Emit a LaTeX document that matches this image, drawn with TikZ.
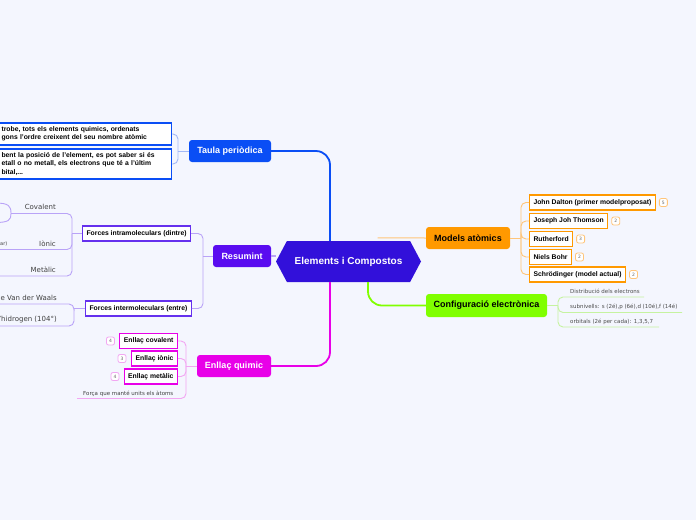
\documentclass[tikz,border=0pt]{standalone}
\usepackage{fontspec}
\setmainfont{Liberation Sans}
\newfontfamily\dv{DejaVu Sans}
\usetikzlibrary{shapes.symbols}
\definecolor{bg}{HTML}{F4F6FE}
\definecolor{cen}{HTML}{3210DA}
\definecolor{blu}{HTML}{0A4EF5}
\definecolor{bluc}{HTML}{A3B8F6}
\definecolor{vio}{HTML}{5A0CF0}
\definecolor{vioc}{HTML}{B9A3F7}
\definecolor{viob}{HTML}{6530EE}
\definecolor{mag}{HTML}{E800E8}
\definecolor{magc}{HTML}{F2A6F2}
\definecolor{ora}{HTML}{FF9900}
\definecolor{orac}{HTML}{FFC57A}
\definecolor{lim}{HTML}{80FF00}
\definecolor{limc}{HTML}{C6F3A0}
\tikzset{
  mainbox/.style={rounded corners=3pt, minimum height=22pt, inner xsep=0pt, inner ysep=0pt, text=white, font=\bfseries\fontsize{9}{10}\selectfont},
  cbox/.style={draw, line width=1.1pt, fill=white, font=\bfseries\fontsize{6.8}{8}\selectfont, minimum height=15pt, inner xsep=4pt, inner ysep=0pt},
  tbox/.style={draw=blu, line width=1.1pt, fill=white, anchor=west, text width=165pt, align=left, inner xsep=5pt, inner ysep=2pt, font=\bfseries\fontsize{6.8}{8.5}\selectfont},
  badge/.style={draw, rounded corners=2pt, fill=white, line width=0.8pt, minimum width=8pt, minimum height=8pt, inner sep=0pt, font=\dv\fontsize{4.5}{5}\selectfont, text=black!60},
  leaf/.style={font=\dv\fontsize{7}{8}\selectfont, text=black!75, inner sep=0pt, anchor=base east},
  small/.style={font=\dv\fontsize{5.5}{6}\selectfont, text=black!70, inner sep=0pt, anchor=base west},
  conn/.style={line width=0.9pt, rounded corners=5pt},
  thick conn/.style={line width=1.8pt, rounded corners=14pt},
}
\begin{document}
\begin{tikzpicture}[x=1pt,y=-1pt]
\useasboundingbox (0,0) rectangle (696,520);
\fill[bg] (0,0) rectangle (696,520);

% central
\node[signal, signal to=west and east, signal pointer angle=124, fill=cen, minimum width=145pt, minimum height=41pt, inner sep=0pt, text=white, font=\bfseries\fontsize{10}{12}\selectfont] (c) at (348.5,261.5) {Elements i Compostos};

% main topics
\node[mainbox, fill=blu, minimum width=82pt] (taula) at (230,151) {Taula periòdica};
\node[mainbox, fill=vio, minimum width=58pt] (res) at (242,256) {Resumint};
\node[mainbox, fill=mag, minimum width=74pt] (enl) at (234,366) {Enllaç quimic};
\node[mainbox, fill=ora, minimum width=84pt, text=black] (mod) at (468,238) {Models atòmics};
\node[mainbox, fill=lim, minimum width=121pt, minimum height=23pt, text=black] (conf) at (486.5,305.5) {Configuració electrònica};

% central connectors
\draw[thick conn, blu] ([xshift=-18.5pt]c.north) |- (taula.east);
\draw[thick conn, mag] ([xshift=-18.5pt]c.south) |- (enl.east);
\draw[thick conn, lim] ([xshift=19.5pt]c.south) |- (conf.west);
\draw[line width=1pt, orac] ([xshift=29pt,yshift=3pt]c.north) -- (mod.west);
\draw[line width=1.5pt, vioc] (res.east) -- (res.east -| c.west);

% Taula children
\node[tbox, minimum height=22pt] (t1) at (-4,134) {trobe, tots els elements quimics, ordenats\\gons l'ordre creixent del seu nombre atòmic};
\node[tbox, minimum height=30pt] (t2) at (-4,164) {bent la posició de l'element, es pot saber si és\\etall o no metall, els electrons que té a l'últim\\bital,...};
\coordinate (tb) at (178,151);
\draw[conn, bluc] (taula.west) -- (tb);
\draw[conn, bluc] (t1.east) -| (tb);
\draw[conn, bluc] (t2.east) -| (tb);

% Resumint children
\node[cbox, draw=viob, anchor=west] (intra) at (82,233.5) {Forces intramoleculars (dintre)};
\node[cbox, draw=viob, anchor=west] (inter) at (85,308.5) {Forces intermoleculars (entre)};
\coordinate (rb) at (203,256);
\draw[conn, vioc] (res.west) -- (rb);
\draw[conn, vioc] (intra.east) -| (rb);
\draw[conn, vioc] (inter.east) -| (rb);

% intra leaves
\coordinate (ib) at (72,233.5);
\draw[conn, vioc] (intra.west) -- (ib);
\node[leaf] (cov) at (56,209.5) {Covalent};
\node[leaf] (ion) at (56,246) {Iònic};
\node[leaf] (met) at (56,272.5) {Metàlic};
\node[font=\dv\fontsize{5}{6}\selectfont, text=black!75, inner sep=0pt, anchor=base west] (ar) at (0,245) {ar)};
\coordinate (covu) at (11,213.5);
\coordinate (ionu) at (-5,249.5);
\coordinate (metu) at (-5,276);
\draw[conn, vioc] (covu) -| (ib);
\draw[conn, vioc] (ionu) -| (ib);
\draw[conn, vioc] (metu) -| (ib);
\draw[line width=0.9pt, vioc] (-5,203) .. controls (9,203) and (11,206) .. (covu) .. controls (11,220) and (9,222.5) .. (-5,222.5);

% inter leaves
\coordinate (ib2) at (74,308.5);
\draw[conn, vioc] (inter.west) -- (ib2);
\node[leaf] (vdw) at (57,300.5) {le Van der Waals};
\node[leaf] (hid) at (57,321) {’hidrogen (104°)};
\coordinate (vdwu) at (-5,304);
\coordinate (hidu) at (-5,326);
\draw[conn, vioc] (vdwu) -| (ib2);
\draw[conn, vioc] (hidu) -| (ib2);

% Enllac children
\node[cbox, draw=mag, anchor=east] (ecov) at (178,341) {Enllaç covalent};
\node[cbox, draw=mag, anchor=east] (eion) at (178,358.5) {Enllaç iònic};
\node[cbox, draw=mag, anchor=east] (emet) at (178,376.5) {Enllaç metàlic};
\node[badge, draw=magc] (b1) at (110.5,341) {4};
\node[badge, draw=magc] (b2) at (122,358.5) {3};
\node[badge, draw=magc] (b3) at (115,376.5) {4};
\node[font=\dv\fontsize{5.5}{6}\selectfont, text=black!75, inner sep=0pt, anchor=base west] (forca) at (83,395) {Força que manté units els àtoms};
\coordinate (eb) at (186,366);
\coordinate (fu) at (77,398.5);
\draw[conn, magc] (enl.west) -- (eb);
\draw[conn, magc] (ecov.east) -| (eb);
\draw[conn, magc] (eion.east) -| (eb);
\draw[conn, magc] (emet.east) -| (eb);
\draw[conn, magc] (fu) -| (eb);

% Models children
\node[cbox, draw=ora, anchor=west] (dal) at (529,202.5) {John Dalton (primer modelproposat)};
\node[cbox, draw=ora, anchor=west] (tho) at (529,221) {Joseph Joh Thomson};
\node[cbox, draw=ora, anchor=west] (rut) at (529,239) {Rutherford};
\node[cbox, draw=ora, anchor=west] (boh) at (529,257) {Niels Bohr};
\node[cbox, draw=ora, anchor=west] (sch) at (529,274.5) {Schrödinger (model actual)};
\node[badge, draw=orac, anchor=west] (m1) at ([xshift=3pt]dal.east) {5};
\node[badge, draw=orac, anchor=west] (m2) at ([xshift=3pt]tho.east) {2};
\node[badge, draw=orac, anchor=west] (m3) at ([xshift=3pt]rut.east) {3};
\node[badge, draw=orac, anchor=west] (m4) at ([xshift=3pt]boh.east) {2};
\node[badge, draw=orac, anchor=west] (m5) at ([xshift=3pt]sch.east) {2};
\coordinate (mb) at (521,238);
\draw[conn, orac] (mod.east) -- (mb);
\draw[conn, orac] (dal.west) -| (mb);
\draw[conn, orac] (tho.west) -| (mb);
\draw[conn, orac] (rut.west) -| (mb);
\draw[conn, orac] (boh.west) -| (mb);
\draw[conn, orac] (sch.west) -| (mb);

% Config children
\node[small] (dis) at (570,293) {Distribució dels electrons};
\node[small] (sub) at (570,308.5) {subnivells: s (2é),p (6é),d (10é),f (14é)};
\node[small] (orb) at (570,323.5) {orbitals (2é per cada): 1,3,5,7};
\coordinate (cb) at (558,305.5);
\coordinate (disu) at (644,297);
\coordinate (subu) at (682,312.5);
\coordinate (orbu) at (659,327);
\draw[conn, limc] (conf.east) -- (cb);
\draw[conn, limc] (disu) -| (cb);
\draw[conn, limc] (subu) -| (cb);
\draw[conn, limc] (orbu) -| (cb);
\end{tikzpicture}
\end{document}
